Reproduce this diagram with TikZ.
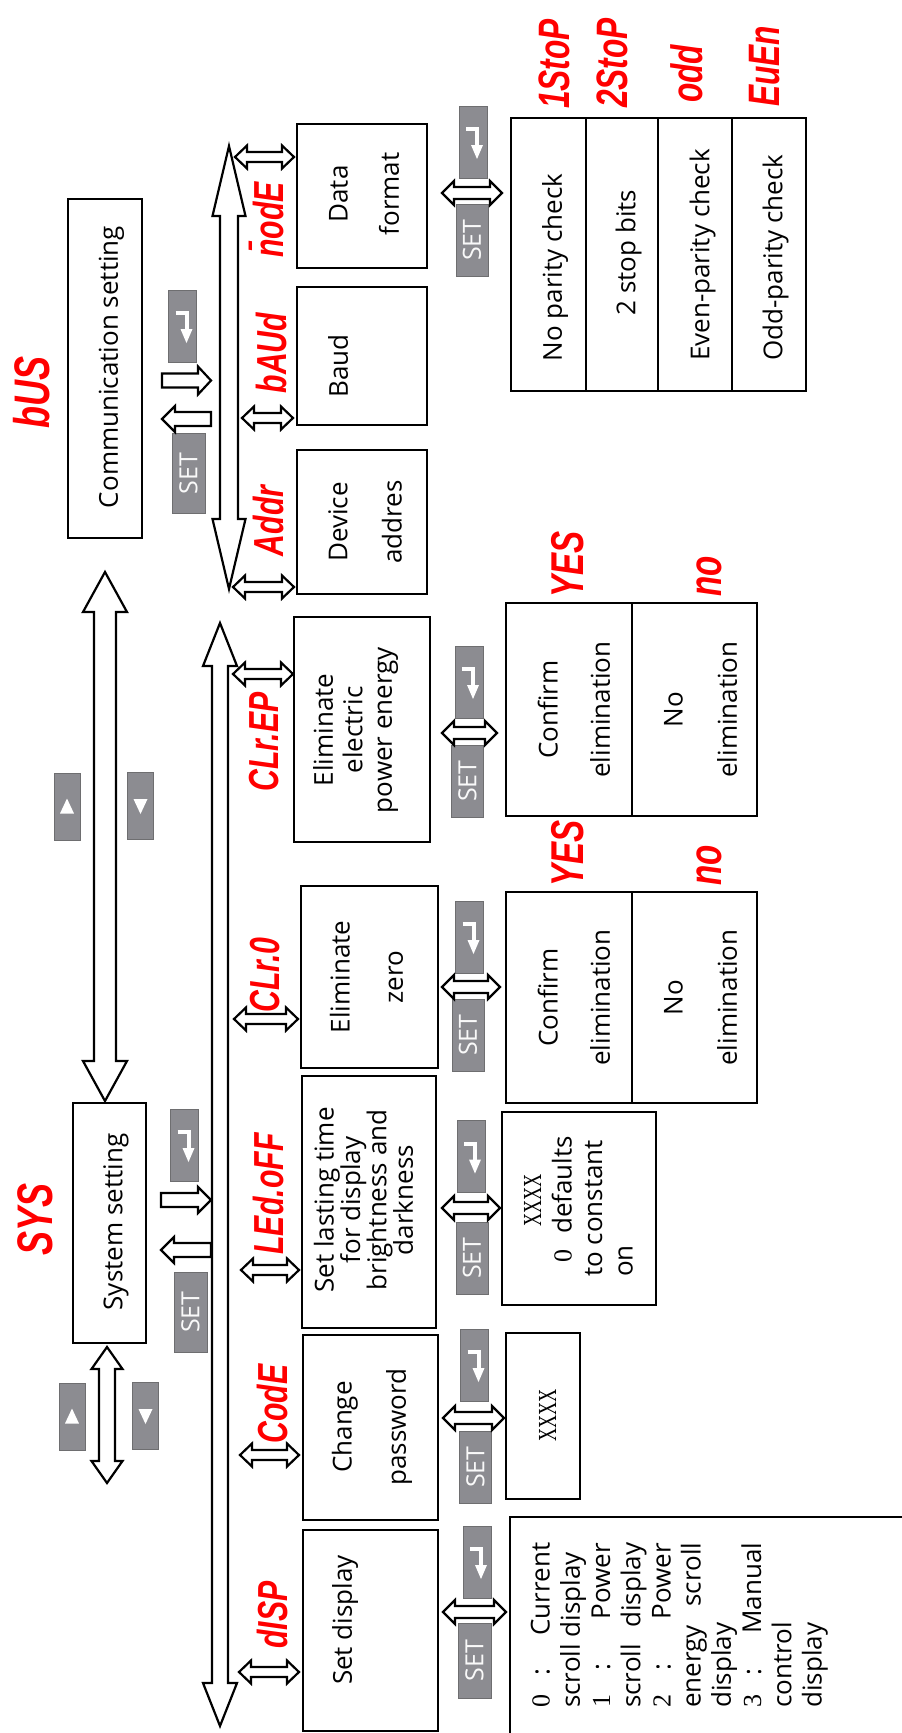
\documentclass[tikz,border=0pt]{standalone}
\usepackage{graphicx}
\usepackage{fontspec}
\setmainfont{Open Sans}
\newfontfamily\numfont{Liberation Serif}
\newfontfamily\segfont[FakeStretch=0.72]{Liberation Sans}
\usetikzlibrary{fit}
\definecolor{keygray}{RGB}{140,140,145}
\definecolor{keyedge}{RGB}{110,110,112}
\definecolor{segred}{RGB}{255,0,0}

% block arrows, y axis points down: (x or y, tip, tip, half shaft, half head, head length)
\newcommand{\vdarrow}[6]{\draw[barrow] (#1,#2) -- ++(#5,#6) -- ++({#4-#5},0) -- ({#1+#4},{#3-#6}) -- ++({#5-#4},0) -- (#1,#3) -- ++(-#5,-#6) -- ++({#5-#4},0) -- ({#1-#4},{#2+#6}) -- ++({#4-#5},0) -- cycle;}
\newcommand{\hdarrow}[6]{\draw[barrow] (#2,#1) -- ++(#6,-#5) -- ++(0,{#5-#4}) -- ({#3-#6},{#1-#4}) -- ++(0,{#4-#5}) -- (#3,#1) -- ++(-#6,#5) -- ++(0,{#4-#5}) -- ({#2+#6},{#1+#4}) -- ++(0,{#5-#4}) -- cycle;}
\newcommand{\rarrow}[6]{\draw[barrow] (#2,{#1-#4}) -- ({#3-#6},{#1-#4}) -- ({#3-#6},{#1-#5}) -- (#3,#1) -- ({#3-#6},{#1+#5}) -- ({#3-#6},{#1+#4}) -- (#2,{#1+#4}) -- cycle;}
\newcommand{\larrow}[6]{\draw[barrow] (#2,{#1-#4}) -- ({#3+#6},{#1-#4}) -- ({#3+#6},{#1-#5}) -- (#3,#1) -- ({#3+#6},{#1+#5}) -- ({#3+#6},{#1+#4}) -- (#2,{#1+#4}) -- cycle;}
% key icons
\newcommand{\entericon}[1]{\draw[white, line width=4pt, shift={(#1.center)}] (-7,-13) -- (4,-13) -- (4,4);
  \fill[white, shift={(#1.center)}] (-2,3) -- (10,3) -- (4,17) -- cycle;}
\newcommand{\upicon}[1]{\fill[white, shift={(#1.center)}] (0,-8) -- (7,7) -- (-7,7) -- cycle;}
\newcommand{\downicon}[1]{\fill[white, shift={(#1.center)}] (0,8) -- (7,-7) -- (-7,-7) -- cycle;}
\newcommand{\pwdmask}{{\numfont\scalebox{0.7}[1]{XXXX}}}

\begin{document}
\begin{tikzpicture}[x=1pt, y=-1pt,
  box/.style={draw, line width=2.8pt, inner sep=0pt},
  txt/.style={rotate=90, inner sep=0pt, align=center, font=\fontsize{26}{31.2}\selectfont},
  seg/.style={rotate=90, inner sep=0pt, text=segred, font=\segfont\bfseries\itshape\fontsize{42}{42}\selectfont},
  segmid/.style={seg, font=\segfont\bfseries\itshape\fontsize{46}{46}\selectfont},
  segbig/.style={seg, font=\segfont\bfseries\itshape\fontsize{50}{50}\selectfont},
  key/.style={fill=keygray, draw=keyedge, line width=0.8pt, inner sep=0pt},
  setkey/.style={key, rotate=90, minimum width=72pt, minimum height=32pt, text=white!95!keygray, font=\fontsize{25}{25}\selectfont},
  entkey/.style={key, minimum width=28pt, minimum height=72pt},
  arrkey/.style={key, minimum width=26pt, minimum height=67pt},
  barrow/.style={draw, fill=white, line width=2.2pt, line join=miter}]
\useasboundingbox (0,0) rectangle (902,1733);
\clip (0,0) rectangle (902,1733);

% system / communication
\node[box, fit={(73,1103) (146,1343)}] (sys) {};
\node[txt] (sys-t) at (116,1222) {System setting};
\node[segbig] (sys-l) at (35,1219) {SYS};
\node[box, fit={(68,199) (142,538)}] (bus) {};
\node[txt] (bus-t) at (111.5,367) {Communication setting};
\node[segbig] (bus-l) at (32,392) {bUS};

\vdarrow{105}{572}{1101}{11}{22}{40}
\vdarrow{107}{1347}{1483}{8}{15.5}{22}
\vdarrow{220}{623}{1726}{8}{17}{43} % bus 1
\vdarrow{229}{146}{589}{9}{16.5}{70} % bus 2

\node[arrkey] (up1) at (67,806.5) {}; \upicon{up1}
\node[arrkey] (dn1) at (140.5,806) {}; \downicon{dn1}
\node[arrkey] (up2) at (72,1416.5) {}; \upicon{up2}
\node[arrkey] (dn2) at (145.5,1416) {}; \downicon{dn2}

\node[setkey, minimum width=80pt, minimum height=33pt] (sys-set) at (190.5,1312) {SET};
\node[entkey] (sys-ent) at (184.5,1145) {}; \entericon{sys-ent}
\larrow{1250}{211}{161}{7}{13}{13}
\rarrow{1200}{161}{211}{7}{13}{13}
\node[setkey, minimum width=80pt, minimum height=33pt] (bus-set) at (188.5,473.5) {SET};
\node[entkey] (bus-ent) at (182.5,326) {}; \entericon{bus-ent}
\larrow{419}{211}{162}{7}{13}{13}
\rarrow{380.5}{162}{211}{7}{14}{13}

% second level
\node[box, fit={(303,1530) (438,1731)}] (disp) {};
\node[txt] (disp-t) at (345,1620) {Set display};
\node[seg] (disp-l) at (272,1615) {dISP};
\node[box, fit={(303,1335) (438,1520)}] (code) {};
\node[txt] (code-t) at (372,1427) {Change\\[23pt]password};
\node[seg] (code-l) at (272,1404) {CodE};
\node[box, fit={(302,1076) (436,1328)}] (led) {};
\node[txt, font=\fontsize{26}{26.4}\selectfont] (led-t) at (363.5,1200) {Set lasting time\\for display\\brightness and\\darkness};
\node[seg] (led-l) at (268,1194) {LEd.oFF};
\node[box, fit={(301,886) (438,1068)}] (clr0) {};
\node[txt] (clr0-t) at (366.5,977) {Eliminate\\[22pt]zero};
\node[seg] (clr0-l) at (265,975) {CLr.0};
\node[box, fit={(294,617) (430,842)}] (clrep) {};
\node[txt, font=\fontsize{26}{29.5}\selectfont] (clrep-t) at (355.7,730) {Eliminate\\electric\\power energy};
\node[seg] (clrep-l) at (264,742) {CLr.EP};
\node[box, fit={(297,450) (427,594)}] (addr) {};
\node[txt] (addr-t) at (365,522) {Device\\[23pt]addres};
\node[seg] (addr-l) at (268,521) {Addr};
\node[box, fit={(297,287) (427,425)}] (baud) {};
\node[txt] (baud-t) at (338,366) {Baud};
\node[seg] (baud-l) at (271,353) {bAUd};
\node[box, fit={(297,124) (427,268)}] (mode) {};
\node[txt] (mode-t) at (364,194) {Data\\[20pt]format};
\node[seg] (mode-l) at (266.5,220) {\={n}odE};

\hdarrow{1672}{239}{299}{5}{11.5}{12}
\hdarrow{1455}{240}{299}{5}{11.5}{12}
\hdarrow{1270}{241}{299}{5}{11.5}{12}
\hdarrow{1019}{234}{298}{5}{11.5}{12}
\hdarrow{674}{233}{293}{5}{11.5}{12}
\hdarrow{587}{233}{294}{5}{11.5}{12}
\hdarrow{418}{242}{293}{5}{11.5}{12}
\hdarrow{157}{235}{294}{5}{11.5}{12}

% third level keys
\node[setkey, minimum width=75pt, minimum height=33pt] (disp-set) at (474.5,1660.5) {SET};
\node[entkey] (disp-ent) at (477,1562) {}; \entericon{disp-ent}
\node[setkey] (code-set) at (475.5,1467) {SET};
\node[entkey] (code-ent) at (474.5,1365) {}; \entericon{code-ent}
\node[setkey] (led-set) at (472,1258) {SET};
\node[entkey] (led-ent) at (471,1156.5) {}; \entericon{led-ent}
\node[setkey] (clr0-set) at (468,1035) {SET};
\node[entkey] (clr0-ent) at (469.5,937) {}; \entericon{clr0-ent}
\node[setkey] (clrep-set) at (467.5,781) {SET};
\node[entkey] (clrep-ent) at (469,682) {}; \entericon{clrep-ent}
\node[setkey] (mode-set) at (472,240) {SET};
\node[entkey] (mode-ent) at (473,142) {}; \entericon{mode-ent}

\hdarrow{1612}{443}{506}{6}{12}{12}
\hdarrow{1418}{443}{504}{6}{12}{12}
\hdarrow{1208}{442}{500}{6}{12}{12}
\hdarrow{987}{442}{500}{6}{12}{12}
\hdarrow{733}{442}{497}{6}{12}{12}
\hdarrow{193}{442}{502}{6}{12}{12}

% third level boxes
\node[box, fit={(510,1517) (960,1790)}] (disp-o) {};
\node[txt, align=left, anchor=north west, font=\fontsize{26}{30.2}\selectfont] (disp-o-t) at (530.7,1708)
  {\makebox[165pt][s]{{\numfont 0} : Current}\\scroll display\\\makebox[165pt][s]{{\numfont 1} : Power}\\\makebox[165pt][s]{scroll display}\\\makebox[165pt][s]{{\numfont 2} : Power}\\\makebox[165pt][s]{energy scroll}\\display\\\makebox[165pt][s]{{\numfont 3} : Manual}\\control\\display};
\node[box, fit={(506,1333) (580,1499)}] (code-o) {};
\node[txt] (code-o-t) at (547.5,1415.5) {\pwdmask};
\node[box, fit={(502,1112) (656,1305)}] (led-o) {};
\node[txt, align=left, anchor=north west, font=\fontsize{26}{30.5}\selectfont] (led-o-t) at (523.8,1277)
  {\hspace*{50pt}\pwdmask\\\hspace*{14pt}{\numfont 0}\hspace{16pt}defaults\\to constant\\on};

\node[box, fit={(506,892) (632,1103)}] (clr0-yes) {};
\node[box, fit={(632,892) (757,1103)}] (clr0-no) {};
\node[txt] (clr0-yes-t) at (574,997.5) {Confirm\\[21pt]elimination};
\node[txt] (clr0-no-t) at (700.5,997.5) {No\\[23pt]elimination};
\node[segmid, anchor=west] (clr0-yes-l) at (567.5,887) {YES};
\node[segmid, anchor=west] (clr0-no-l) at (709.5,886) {no};
\node[box, fit={(506,603) (632,816)}] (clrep-yes) {};
\node[box, fit={(632,603) (757,816)}] (clrep-no) {};
\node[txt] (clrep-yes-t) at (574,709.5) {Confirm\\[21pt]elimination};
\node[txt] (clrep-no-t) at (700.5,709.5) {No\\[23pt]elimination};
\node[segmid, anchor=west] (clrep-yes-l) at (567.5,598) {YES};
\node[segmid, anchor=west] (clrep-no-l) at (709.5,597) {no};

\node[box, fit={(511,118) (586,391)}] (mode-1) {};
\node[box, fit={(586,118) (658,391)}] (mode-2) {};
\node[box, fit={(658,118) (732,391)}] (mode-3) {};
\node[box, fit={(732,118) (806,391)}] (mode-4) {};
\node[txt] (mode-1-t) at (555,267.5) {No parity check};
\node[txt] (mode-2-t) at (628.5,252.5) {2 stop bits};
\node[txt] (mode-3-t) at (702.5,255) {Even-parity check};
\node[txt] (mode-4-t) at (775.5,257.5) {Odd-parity check};
\node[seg, font=\segfont\bfseries\itshape\fontsize{44}{44}\selectfont, anchor=west] (mode-1-l) at (554,109) {1StoP};
\node[seg, font=\segfont\bfseries\itshape\fontsize{44}{44}\selectfont, anchor=west] (mode-2-l) at (612,108) {2StoP};
\node[seg, font=\segfont\bfseries\itshape\fontsize{44}{44}\selectfont, anchor=west] (mode-3-l) at (686.5,103) {odd};
\node[seg, font=\segfont\bfseries\itshape\fontsize{44}{44}\selectfont, anchor=west] (mode-4-l) at (765,107) {EuEn};
\end{tikzpicture}
\end{document}
